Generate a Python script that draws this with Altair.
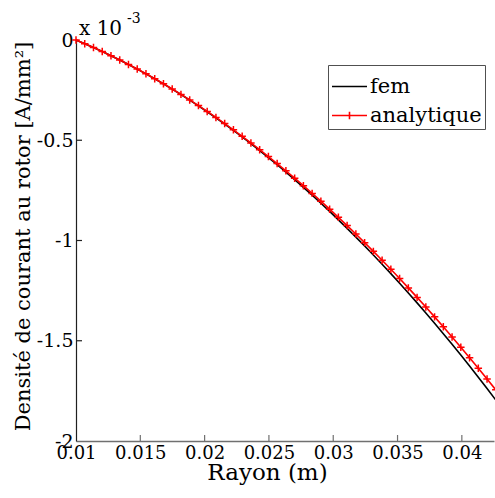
import altair as alt
import pandas as pd

# Rayon (m)
rayon = [0.01, 0.01068, 0.01136, 0.01204, 0.01272, 0.0134, 0.01408, 0.01476, 0.01544, 0.01612,
         0.0168, 0.01748, 0.01816, 0.01884, 0.01952, 0.0202, 0.02088, 0.02156, 0.02224, 0.02292,
         0.0236, 0.02428, 0.02496, 0.02564, 0.02632, 0.027, 0.02768, 0.02836, 0.02904, 0.02972,
         0.0304, 0.03108, 0.03176, 0.03244, 0.03312, 0.0338, 0.03448, 0.03516, 0.03584, 0.03652,
         0.0372, 0.03788, 0.03856, 0.03924, 0.03992, 0.0406, 0.04128, 0.04196, 0.04264]
# current density, units of 1e-3 A/mm^2
fem = [0.0, -0.0184, -0.0376, -0.0575, -0.0782, -0.0997, -0.1220, -0.1451, -0.1688, -0.1934,
       -0.2189, -0.2450, -0.2720, -0.2998, -0.3284, -0.3578, -0.3880, -0.4190, -0.4508, -0.4835,
       -0.5169, -0.5512, -0.5862, -0.6221, -0.6589, -0.6964, -0.7348, -0.7741, -0.8141, -0.8550,
       -0.8968, -0.9394, -0.9829, -1.0271, -1.0723, -1.1183, -1.1652, -1.2129, -1.2615, -1.3110,
       -1.3613, -1.4126, -1.4647, -1.5177, -1.5715, -1.6262, -1.6819, -1.7385, -1.7959]
analytique = [0.0, -0.0184, -0.0376, -0.0575, -0.0782, -0.0996, -0.1219, -0.1449, -0.1686, -0.1931,
              -0.2184, -0.2444, -0.2712, -0.2988, -0.3271, -0.3562, -0.3861, -0.4167, -0.4481, -0.4803,
              -0.5132, -0.5469, -0.5813, -0.6165, -0.6525, -0.6892, -0.7267, -0.7650, -0.8040, -0.8438,
              -0.8844, -0.9257, -0.9678, -1.0106, -1.0542, -1.0986, -1.1437, -1.1896, -1.2363, -1.2837,
              -1.3319, -1.3809, -1.4306, -1.4811, -1.5323, -1.5843, -1.6371, -1.6907, -1.7450]

series = ["fem", "analytique"]
colors = ["#000000", "#ff0000"]
x_ticks = [0.01, 0.015, 0.02, 0.025, 0.03, 0.035, 0.04]
y_ticks = [0, -0.5, -1, -1.5, -2]

FONT = "DejaVu Serif"

df = pd.DataFrame({
    "Rayon": rayon * 2,
    "J": fem + analytique,
    "Serie": ["fem"] * len(rayon) + ["analytique"] * len(rayon),
})
df_a = pd.DataFrame({"Rayon": rayon, "J": analytique})

xscale = alt.Scale(domain=[0.01, 0.0425], nice=False, zero=False)
yscale = alt.Scale(domain=[-2, 0], nice=False, zero=False)

xaxis = alt.Axis(values=x_ticks, format="~g", tickSize=0, labelPadding=3, grid=False,
                 labelFont=FONT, labelFontSize=18, labelColor="black", labelOverlap=False,
                 labelFlush=False, domainColor="#707070", domainWidth=1.5,
                 title="Rayon  (m)", titleFont=FONT, titleFontSize=23, titleFontWeight="normal",
                 titleColor="black", titleX=191, titleY=31, titleBaseline="middle", titleAlign="center")
yaxis = alt.Axis(values=y_ticks, format="~g", tickSize=0, labelPadding=3, grid=False,
                 labelExpr="replace(datum.label, '\u2212', '-')",
                 labelFont=FONT, labelFontSize=19, labelColor="black", labelOverlap=False,
                 labelFlush=False, domainColor="#202020", domainWidth=1.2,
                 title="Densité de  courant au rotor [A/mm²]", titleFont=FONT, titleFontSize=21,
                 titleFontWeight="normal", titleColor="black", titleAngle=270,
                 titleX=-53, titleY=196, titleBaseline="middle", titleAlign="center")

leg = alt.Legend(title=None, orient="none", legendX=252, legendY=25,
                 strokeColor="#505050", padding=3, fillColor="white",
                 labelFont=FONT, labelFontSize=21, labelColor="black",
                 labelOffset=2, symbolSize=1225, symbolStrokeWidth=1.6,
                 rowPadding=0, symbolFillColor="transparent")

color_enc = alt.Color("Serie:N", scale=alt.Scale(domain=series, range=colors), legend=leg)

lines = alt.Chart(df).mark_line(strokeWidth=1.6).encode(
    x=alt.X("Rayon:Q", scale=xscale, axis=xaxis),
    y=alt.Y("J:Q", scale=yscale, axis=yaxis),
    color=color_enc,
    order=alt.Order("Rayon:Q"),
)

points = alt.Chart(df_a).mark_point(filled=False, strokeWidth=1.5, opacity=1).encode(
    x="Rayon:Q",
    y="J:Q",
    shape=alt.value("M-1,0H1M0,-1V1"),
    color=alt.value("#ff0000"),
    size=alt.value(56),
)

legend_layer = alt.Chart(df).mark_point(filled=False, strokeWidth=1.6, opacity=1).encode(
    x="Rayon:Q",
    y="J:Q",
    color=color_enc,
    shape=alt.Shape("Serie:N", scale=alt.Scale(domain=series,
                                               range=["M-1,0H1", "M-1,0H1M0,-0.22V0.22"]),
                    legend=leg),
).transform_filter("false")

tick_x = alt.Chart(pd.DataFrame({"v": x_ticks[1:]})).mark_rule(color="#707070", strokeWidth=1.2).encode(
    x="v:Q", y=alt.value(401), y2=alt.value(395))
tick_y = alt.Chart(pd.DataFrame({"v": y_ticks[1:-1]})).mark_rule(color="#202020", strokeWidth=1.2).encode(
    y="v:Q", x=alt.value(0), x2=alt.value(6))

exp_base = alt.Chart(pd.DataFrame({"t": ["x 10"]})).mark_text(
    align="left", baseline="alphabetic", font=FONT, fontSize=20, color="black").encode(
    text="t:N", x=alt.value(3), y=alt.value(-5))
exp_sup = alt.Chart(pd.DataFrame({"t": ["-3"]})).mark_text(
    align="left", baseline="alphabetic", font=FONT, fontSize=14, color="black").encode(
    text="t:N", x=alt.value(51), y=alt.value(-17))

chart = alt.layer(lines, points, legend_layer, tick_x, tick_y, exp_base, exp_sup).properties(
    width=418, height=401,
    autosize=alt.AutoSizeParams(type="none"),
    padding={"left": 76, "top": 40, "right": 1, "bottom": 57},
    background="white",
).configure_view(stroke=None)

chart.save("out.html", embed_options={"renderer": "svg", "actions": False})
